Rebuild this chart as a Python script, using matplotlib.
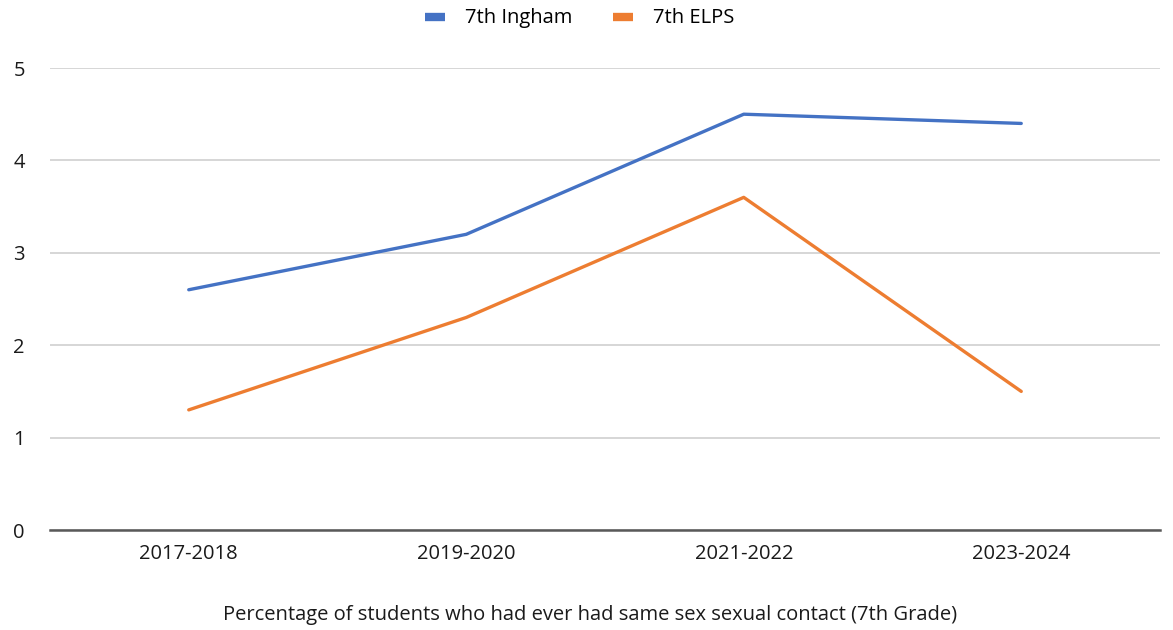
import matplotlib
matplotlib.use("Agg")
import matplotlib.pyplot as plt

categories = ["2017-2018", "2019-2020", "2021-2022", "2023-2024"]
ingham = [2.6, 3.2, 4.5, 4.4]
elps = [1.3, 2.3, 3.6, 1.5]
yticks = [0, 1, 2, 3, 4, 5]
xlabel = "Percentage of students who had ever had same sex sexual contact (7th Grade)"

plt.rcParams['font.family'] = ['Open Sans', 'DejaVu Sans']

fig = plt.figure(figsize=(11.73, 6.3), dpi=100)
ax = fig.add_axes([50/1173, 100/630, 1110/1173, 462/630])

x = list(range(len(categories)))
ax.plot(x, ingham, color="#4472C4", lw=2.4, label="7th Ingham", solid_capstyle="round")
ax.plot(x, elps, color="#ED7D31", lw=2.4, label="7th ELPS", solid_capstyle="round")

ax.set_xlim(-0.5, 3.5)
ax.set_ylim(0, 5)
ax.set_yticks(yticks)
ax.set_xticks(x)
ax.set_xticklabels(categories)
ax.grid(axis="y", color="#d0d0d0", lw=1.2)
ax.set_axisbelow(True)
for s in ["top", "right", "left"]:
    ax.spines[s].set_visible(False)
ax.spines["bottom"].set_color("#595959")
ax.spines["bottom"].set_linewidth(1.8)
ax.tick_params(axis="both", length=0, labelsize=14.5, colors="#1a1a1a")
ax.tick_params(axis="x", pad=10)
ax.tick_params(axis="y", pad=18)
fig.text(590/1173, 1 - 615/630, xlabel, fontsize=14.5, color="#1a1a1a", ha="center", va="center")

leg = fig.legend(*ax.get_legend_handles_labels(), loc="center", bbox_to_anchor=(580/1173, 1 - 18/630),
                 ncol=2, frameon=False, fontsize=14.5, handlelength=1.0, handleheight=0.4,
                 columnspacing=2.0, handletextpad=1.0, borderpad=0)
for h in leg.get_lines():
    h.set_linewidth(6)
    h.set_solid_capstyle("butt")

fig.savefig("out.png", dpi=100)
